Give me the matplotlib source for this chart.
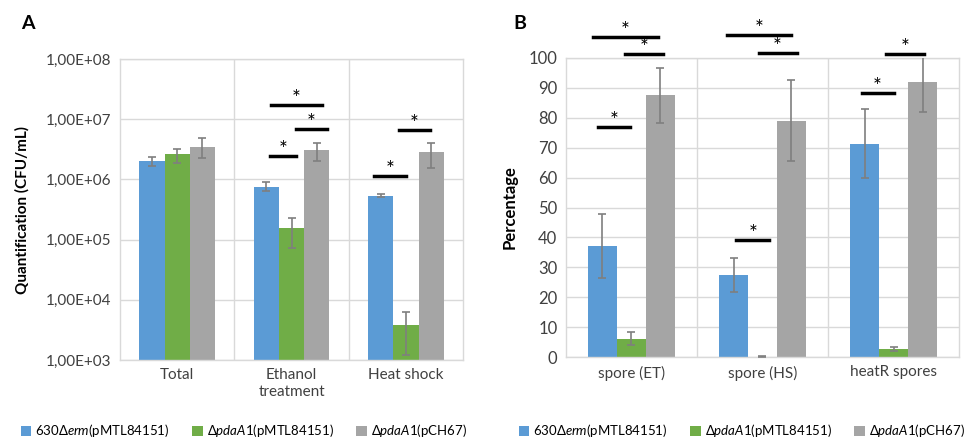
import numpy as np
import matplotlib.pyplot as plt
from matplotlib.patches import Patch

plt.rcParams['font.family'] = ['Lato', 'DejaVu Sans']
plt.rcParams['mathtext.fontset'] = 'custom'
plt.rcParams['mathtext.rm'] = 'Lato'
plt.rcParams['mathtext.it'] = 'Lato:italic'

# ---- data ----
series = ['630Δ$\\it{erm}$(pMTL84151)', 'Δ$\\it{pdaA1}$(pMTL84151)', 'Δ$\\it{pdaA1}$(pCH67)']
colors = ['#5B9BD5', '#70AD47', '#A5A5A5']

cats_a = ['Total', 'Ethanol\ntreatment', 'Heat shock']
vals_a = [[2.03e6, 7.6e5, 5.4e5],
          [2.6e6, 1.58e5, 3.8e3],
          [3.5e6, 3.05e6, 2.8e6]]
lo_a = [[1.7e6, 6.3e5, 5.2e5],
        [1.9e6, 7.2e4, 1.2e3],
        [2.3e6, 2.05e6, 1.55e6]]
hi_a = [[2.4e6, 9.1e5, 5.8e5],
        [3.2e6, 2.3e5, 6.3e3],
        [4.8e6, 4.1e6, 4.1e6]]
yticks_a = [1e3, 1e4, 1e5, 1e6, 1e7, 1e8]
ylabels_a = ['1,00E+03', '1,00E+04', '1,00E+05', '1,00E+06', '1,00E+07', '1,00E+08']

cats_b = ['spore (ET)', 'spore (HS)', 'heatR spores']
vals_b = [[37.2, 27.5, 71.3],
          [6.2, 0.2, 2.7],
          [87.5, 79.0, 92.0]]
err_b = [[10.8, 5.6, 11.5],
         [2.1, 0.1, 0.6],
         [9.1, 13.5, 10.0]]

# significance markers: (category index, x start, x end, y)
sig_a = [(1, -0.19, 0.04, 2.43e6), (1, 0.035, 0.31, 6.8e6), (1, -0.18, 0.265, 1.74e7),
         (2, -0.28, 0.0, 1.16e6), (2, -0.06, 0.21, 6.5e6)]
sig_b = [(0, -0.25, -0.01, 77.0), (0, -0.05, 0.24, 101.2), (0, -0.29, 0.2, 107.1),
         (1, -0.2, 0.05, 39.0), (1, -0.03, 0.26, 101.7), (1, -0.27, 0.22, 107.8),
         (2, -0.245, 0.0, 88.3), (2, -0.06, 0.235, 101.4)]

width = 0.22
offsets = [-0.22, 0.0, 0.22]
grid_c = '#D9D9D9'
err_c = '#7F7F7F'

fig = plt.figure(figsize=(9.67, 4.42), dpi=100)
ax_a = fig.add_axes([0.124, 0.1855, 0.355, 0.681])
ax_b = fig.add_axes([0.585, 0.192, 0.407, 0.677])


def style_axes(ax, ncat):
    for s in ax.spines.values():
        s.set_color(grid_c)
        s.set_linewidth(1.0)
    ax.set_xlim(-0.5, ncat - 0.5)
    for b in np.arange(0.5, ncat - 0.5, 1):
        ax.axvline(b, color=grid_c, lw=1.0, zorder=0)
    ax.yaxis.grid(True, color=grid_c, lw=1.0, zorder=0)
    ax.set_axisbelow(True)
    ax.tick_params(length=0, labelsize=11, colors='#404040', pad=6)


def add_sig(ax, c, x0, x1, y):
    ax.plot([c + x0, c + x1], [y, y], color='black', lw=2.5, clip_on=False, zorder=4)
    ax.annotate('*', xy=(c + (x0 + x1) / 2, y), xytext=(0, 0), textcoords='offset points',
                ha='center', va='baseline', fontsize=15, annotation_clip=False)


# panel A
x = np.arange(len(cats_a))
ax_a.set_yscale('log')
for i in range(3):
    v = np.array(vals_a[i])
    yerr = [v - np.array(lo_a[i]), np.array(hi_a[i]) - v]
    ax_a.bar(x + offsets[i], v, width, color=colors[i], zorder=2)
    ax_a.errorbar(x + offsets[i], v, yerr=yerr, fmt='none', ecolor=err_c,
                  elinewidth=1.2, capsize=3, capthick=1.2, zorder=3)
ax_a.set_ylim(1e3, 1e8)
ax_a.set_yticks(yticks_a)
ax_a.set_yticklabels(ylabels_a)
ax_a.minorticks_off()
ax_a.set_xticks(x)
ax_a.set_xticklabels(cats_a)
style_axes(ax_a, len(cats_a))
ax_a.set_ylabel('Quantification (CFU/mL)', fontsize=11, fontweight='bold', labelpad=12)
for c, x0, x1, y in sig_a:
    add_sig(ax_a, c, x0, x1, y)

# panel B
x = np.arange(len(cats_b))
for i in range(3):
    ax_b.bar(x + offsets[i], vals_b[i], width, color=colors[i], zorder=2)
    ax_b.errorbar(x + offsets[i], vals_b[i], yerr=err_b[i], fmt='none', ecolor=err_c,
                  elinewidth=1.2, capsize=3, capthick=1.2, zorder=3)
ax_b.set_ylim(0, 100)
ax_b.set_yticks(np.arange(0, 101, 10))
ax_b.set_xticks(x)
ax_b.set_xticklabels(cats_b)
style_axes(ax_b, len(cats_b))
ax_b.tick_params(axis='y', labelsize=12)
ax_b.set_ylabel('Percentage', fontsize=12, fontweight='bold', labelpad=8)
for c, x0, x1, y in sig_b:
    add_sig(ax_b, c, x0, x1, y)

fig.text(0.022, 0.935, 'A', fontsize=14, fontweight='bold')
fig.text(0.531, 0.935, 'B', fontsize=14, fontweight='bold')

handles = [Patch(facecolor=colors[i], label=series[i]) for i in range(3)]
leg_kw = dict(ncol=3, frameon=False, fontsize=9.5, handlelength=0.8, handleheight=0.8,
              handletextpad=0.3, columnspacing=1.7, loc='center')
fig.legend(handles=handles, bbox_to_anchor=(0.252, 0.025), **leg_kw)
fig.legend(handles=handles, bbox_to_anchor=(0.767, 0.025), **leg_kw)

fig.savefig('out.png', dpi=100)
